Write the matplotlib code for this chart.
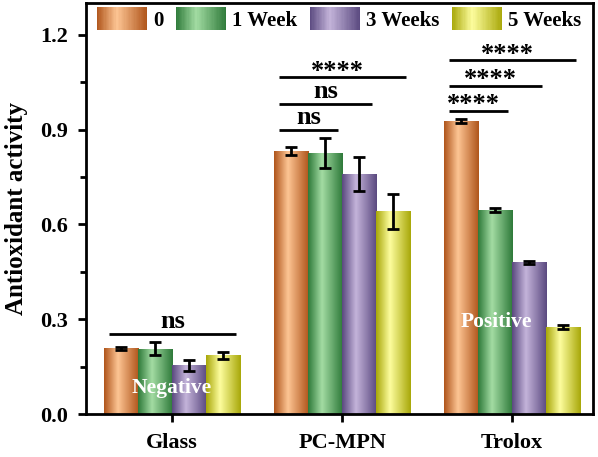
import numpy as np
import matplotlib
matplotlib.use('Agg')
import matplotlib.pyplot as plt
from matplotlib.colors import LinearSegmentedColormap
from matplotlib.legend_handler import HandlerBase
from matplotlib.patches import Rectangle, Patch

plt.rcParams['font.family'] = 'Liberation Serif'
plt.rcParams['font.weight'] = 'bold'

groups = ['Glass', 'PC-MPN', 'Trolox']
series = ['0', '1 Week', '3 Weeks', '5 Weeks']
val_0 = [0.208, 0.833, 0.926]
val_1w = [0.207, 0.826, 0.646]
val_3w = [0.154, 0.759, 0.480]
val_5w = [0.186, 0.641, 0.275]
err_0 = [0.004, 0.012, 0.006]
err_1w = [0.021, 0.048, 0.006]
err_3w = [0.018, 0.054, 0.005]
err_5w = [0.011, 0.054, 0.006]
values = [val_0, val_1w, val_3w, val_5w]
errors = [err_0, err_1w, err_3w, err_5w]

# gradient colours: (edge, highlight)
grad_colors = [('#b0561c', '#fdc594'),
               ('#2f7a3a', '#a3dca3'),
               ('#5b4a80', '#c4b4da'),
               ('#a9a80a', '#fdfd9e')]

# significance brackets: group, last bar of the bracket, height, label
sig_group = [0, 1, 1, 1, 2, 2, 2]
sig_end = [3, 1, 2, 3, 1, 2, 3]
sig_y = [0.253, 0.900, 0.982, 1.065, 0.960, 1.039, 1.120]
sig_text = ['ns', 'ns', 'ns', '****', '****', '****', '****']


def make_cmap(c):
    return LinearSegmentedColormap.from_list('g', [(0, c[0]), (0.4, c[1]), (1, c[0])])


class GradHandler(HandlerBase):
    def __init__(self, cmap):
        super().__init__()
        self.cmap = cmap

    def create_artists(self, legend, orig_handle, xdescent, ydescent, width, height, fontsize, trans):
        n = 40
        arts = []
        for i in range(n):
            r = Rectangle((-xdescent + width * i / n, -ydescent), width / n * 1.05, height,
                          facecolor=self.cmap((i + 0.5) / n), edgecolor='none', transform=trans)
            arts.append(r)
        return arts


fig = plt.figure(figsize=(5.98, 4.57), dpi=100)
ax = fig.add_axes([0.1438, 0.094, 0.848, 0.899])

x = np.arange(len(groups))
w = 0.2
grad = np.linspace(0, 1, 64).reshape(1, -1)
handles = []
handler_map = {}
for i, (vals, errs) in enumerate(zip(values, errors)):
    cmap = make_cmap(grad_colors[i])
    pos = x - 0.3 + i * w
    bars = ax.bar(pos, vals, w, color=grad_colors[i][1], edgecolor='none', zorder=2)
    for b in bars:
        im = ax.imshow(grad, cmap=cmap, aspect='auto', zorder=2.5,
                       extent=[b.get_x(), b.get_x() + b.get_width(), 0, b.get_height()])
        im.set_clip_path(b)
    ax.errorbar(pos, vals, yerr=errs, fmt='none', ecolor='black', elinewidth=2,
                capsize=4, capthick=2, zorder=3)
    h = Patch(label=series[i])
    handles.append(h)
    handler_map[h] = GradHandler(cmap)

for g, e, y, t in zip(sig_group, sig_end, sig_y, sig_text):
    x0 = g - 0.3 - 0.07
    x1 = g - 0.3 + e * w + 0.075
    ax.plot([x0, x1], [y, y], color='black', lw=2, solid_capstyle='butt')
    if t == 'ns':
        ax.text((x0 + x1) / 2, y + 0.019, t, ha='center', va='baseline', fontsize=19, fontweight='bold')
    else:
        ax.text((x0 + x1) / 2 - 0.03, y - 0.002, t, ha='center', va='baseline', fontsize=19,
                fontweight='bold')

ax.text(0, 0.083, 'Negative', color='white', ha='center', va='center', fontsize=15.5, fontweight='bold', zorder=4)
ax.text(1.91, 0.29, 'Positive', color='white', ha='center', va='center', fontsize=15.5, fontweight='bold', zorder=4)

ax.set_xlim(-0.506, 2.476)
ax.set_ylim(0, 1.3)
ax.set_xticks(x)
ax.set_xticklabels(groups, fontsize=16, fontweight='bold')
ax.set_yticks([0, 0.3, 0.6, 0.9, 1.2])
ax.set_yticklabels(['0.0', '0.3', '0.6', '0.9', '1.2'], fontsize=16, fontweight='bold')
ax.set_yticks([0.15, 0.45, 0.75, 1.05], minor=True)
ax.tick_params(axis='both', which='major', direction='out', length=6, width=2, pad=7)
ax.tick_params(axis='y', which='minor', direction='out', length=4, width=2)
ax.tick_params(axis='x', which='major', pad=8)
for s in ax.spines.values():
    s.set_linewidth(2)
ax.set_ylabel('Antioxidant activity', fontsize=18, fontweight='bold', labelpad=9)

ax.legend(handles=handles, handler_map=handler_map, ncol=4, frameon=False,
          loc='upper left', bbox_to_anchor=(0.0217, 0.99), prop={'size': 15, 'weight': 'bold'},
          handlelength=2.4, handleheight=1.3, handletextpad=0.3, columnspacing=0.6, borderpad=0,
          borderaxespad=0)

fig.savefig('out.png', dpi=100)
